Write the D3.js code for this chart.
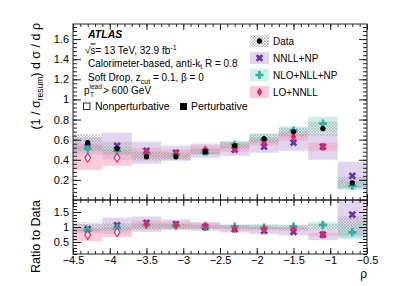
<!DOCTYPE html>
<html>
<head>
<meta charset="utf-8">
<script src="https://cdn.jsdelivr.net/npm/d3@7"></script>
<style>
  body { margin: 0; background: #fff; }
  text { font-family: "Liberation Sans", Arial, sans-serif; }
</style>
</head>
<body>
<script>
// bin centres in rho, each bin is 0.4 wide
const rho = [-4.3, -3.9, -3.5, -3.1, -2.7, -2.3, -1.9, -1.5, -1.1, -0.7];
const binWidth = 0.4;

// measured data + uncertainty band
const dataVal = [0.57, 0.51, 0.43, 0.43, 0.48, 0.54, 0.61, 0.68, 0.71, 0.17];
const dataLo  = [0.49, 0.45, 0.39, 0.40, 0.45, 0.51, 0.57, 0.63, 0.64, 0.12];
const dataHi  = [0.66, 0.58, 0.48, 0.47, 0.51, 0.58, 0.66, 0.72, 0.78, 0.23];

// NNLL+NP
const nnllVal = [0.53, 0.54, 0.49, 0.47, 0.48, 0.50, 0.53, 0.57, 0.53, 0.24];
const nnllLo  = [0.45, 0.40, 0.36, 0.39, 0.42, 0.44, 0.47, 0.49, 0.40, 0.11];
const nnllHi  = [0.62, 0.67, 0.58, 0.54, 0.56, 0.58, 0.62, 0.68, 0.66, 0.38];

// NLO+NLL+NP
const nloVal = [0.51, 0.49, 0.46, 0.45, 0.48, 0.55, 0.60, 0.69, 0.76, 0.14];
const nloLo  = [0.47, 0.46, 0.43, 0.42, 0.45, 0.52, 0.56, 0.64, 0.67, 0.10];
const nloHi  = [0.55, 0.53, 0.49, 0.48, 0.51, 0.58, 0.66, 0.73, 0.83, 0.19];

// LO+NNLL (no prediction in the last bin, first two bins nonperturbative)
const loVal = [0.42, 0.42, 0.47, 0.46, 0.50, 0.51, 0.57, 0.63, 0.53, null];
const loLo  = [0.30, 0.34, 0.41, 0.41, 0.46, 0.48, 0.54, 0.59, 0.49, null];
const loHi  = [0.55, 0.50, 0.52, 0.50, 0.54, 0.55, 0.61, 0.66, 0.57, null];
const loOpen = [true, true, false, false, false, false, false, false, false, false];

// axis ticks
const xMajor = [-4.5, -4, -3.5, -3, -2.5, -2, -1.5, -1, -0.5];
const yMainMajor = [0.2, 0.4, 0.6, 0.8, 1, 1.2, 1.4, 1.6];
const yRatioMajor = [0.5, 1, 1.5];

const W = 399, H = 286;
const left = 73, right = 367, mainTop = 24, mainBot = 200, ratTop = 200, ratBot = 254;

const x = d3.scaleLinear().domain([-4.5, -0.5]).range([left, right]);
const y = d3.scaleLinear().domain([0, 1.75]).range([mainBot, mainTop]);
const yr = d3.scaleLinear().domain([0.1, 1.9]).range([ratBot, ratTop]);

const svg = d3.select("body").append("svg").attr("width", W).attr("height", H);
const defs = svg.append("defs");

// crosshatch for data band
const pat = defs.append("pattern").attr("id", "hatch").attr("patternUnits", "userSpaceOnUse")
  .attr("width", 3).attr("height", 3);
pat.append("path").attr("d", "M0,3L3,0M-1,1L1,-1M2,4L4,2").attr("stroke", "#8c8c8c").attr("stroke-width", 0.6);
pat.append("path").attr("d", "M0,0L3,3M-1,2L1,4M2,-1L4,1").attr("stroke", "#8c8c8c").attr("stroke-width", 0.6);

defs.append("clipPath").attr("id", "clipMain").append("rect")
  .attr("x", left).attr("y", mainTop).attr("width", right - left).attr("height", mainBot - mainTop);
defs.append("clipPath").attr("id", "clipRatio").append("rect")
  .attr("x", left).attr("y", ratTop).attr("width", right - left).attr("height", ratBot - ratTop);

const series = [
  { name: "NNLL+NP", val: nnllVal, lo: nnllLo, hi: nnllHi, color: "#6b35a3", band: "#c9b3e0", shape: "x" },
  { name: "NLO+NLL+NP", val: nloVal, lo: nloLo, hi: nloHi, color: "#2fb0a0", band: "#a9e0d8", shape: "plus" },
  { name: "LO+NNLL", val: loVal, lo: loLo, hi: loHi, color: "#e8215f", band: "#f4a3bd", shape: "diamond", open: loOpen }
];

function markerPath(shape) {
  if (shape === "x" || shape === "plus") return d3.symbol(d3.symbolCross, 36)();
  if (shape === "diamond") return d3.symbol(d3.symbolDiamond, 23)();
  return d3.symbol(d3.symbolCircle, 22)();
}

function drawPanel(yScale, clipId, ratio) {
  const g = svg.append("g").attr("clip-path", `url(#${clipId})`);
  const norm = i => ratio ? dataVal[i] : 1;

  // model bands
  series.forEach(s => {
    g.append("g").selectAll("rect").data(rho.map((r, i) => i).filter(i => s.val[i] != null)).enter()
      .append("rect")
      .attr("x", i => x(rho[i] - binWidth / 2))
      .attr("width", i => x(rho[i] + binWidth / 2) - x(rho[i] - binWidth / 2))
      .attr("y", i => yScale(s.hi[i] / norm(i)))
      .attr("height", i => yScale(s.lo[i] / norm(i)) - yScale(s.hi[i] / norm(i)))
      .attr("fill", s.band).attr("fill-opacity", 0.55);
  });
  // data band
  g.append("g").selectAll("rect").data(rho.map((r, i) => i)).enter().append("rect")
    .attr("x", i => x(rho[i] - binWidth / 2))
    .attr("width", i => x(rho[i] + binWidth / 2) - x(rho[i] - binWidth / 2))
    .attr("y", i => yScale(dataHi[i] / norm(i)))
    .attr("height", i => yScale(dataLo[i] / norm(i)) - yScale(dataHi[i] / norm(i)))
    .attr("fill", "url(#hatch)").attr("opacity", 0.65);

  // markers
  series.forEach(s => {
    g.append("g").selectAll("path").data(rho.map((r, i) => i).filter(i => s.val[i] != null)).enter()
      .append("path")
      .attr("d", markerPath(s.shape))
      .attr("transform", i => `translate(${x(rho[i])},${yScale(s.val[i] / norm(i))})` +
        (s.shape === "x" ? " rotate(45)" : s.shape === "diamond" ? " scale(1.1,1)" : ""))
      .attr("fill", i => (s.open && s.open[i]) ? "#fff" : s.color)
      .attr("stroke", i => (s.open && s.open[i]) ? s.color : "none")
      .attr("stroke-width", 1.1);
  });
  if (!ratio) {
    g.append("g").selectAll("path").data(rho.map((r, i) => i)).enter().append("path")
      .attr("d", markerPath("dot"))
      .attr("transform", i => `translate(${x(rho[i])},${yScale(dataVal[i])})`)
      .attr("fill", "#000");
  }
}

drawPanel(y, "clipMain", false);
drawPanel(yr, "clipRatio", true);

// axes, ROOT style: ticks point inward on all four sides
function minorVals(a, b, step) {
  const v = [];
  for (let k = Math.round(a / step); k * step <= b + 1e-9; k++) v.push(+(k * step).toFixed(4));
  return v;
}
function tickAxis(axisFn, scale, values, size, fmt, tx, ty) {
  const a = axisFn(scale).tickValues(values).tickSizeInner(size).tickSizeOuter(0)
    .tickPadding(axisFn === d3.axisBottom ? 2 : 4).tickFormat(fmt || (() => ""));
  const g = svg.append("g").attr("transform", `translate(${tx},${ty})`).call(a);
  g.select(".domain").remove();
  g.attr("font-size", 11).attr("font-family", '"Liberation Sans", Arial, sans-serif');
  g.selectAll("line").attr("stroke", "#222");
  g.selectAll("text").attr("fill", "#000");
  return g;
}
const fmt = d3.format("~g");
const xMinor = minorVals(-4.5, -0.5, 0.1);

// main panel
tickAxis(d3.axisLeft, y, yMainMajor, -8, fmt, left, 0);
tickAxis(d3.axisLeft, y, minorVals(0, 1.75, 0.04), -4, null, left, 0);
tickAxis(d3.axisRight, y, yMainMajor.concat([0]), -8, null, right, 0);
tickAxis(d3.axisRight, y, minorVals(0, 1.75, 0.04), -4, null, right, 0);
tickAxis(d3.axisBottom, x, xMajor, -6, null, 0, mainBot);
tickAxis(d3.axisBottom, x, xMinor, -3, null, 0, mainBot);
tickAxis(d3.axisTop, x, xMajor, -6, null, 0, mainTop);
tickAxis(d3.axisTop, x, xMinor, -3, null, 0, mainTop);

// ratio panel
tickAxis(d3.axisLeft, yr, yRatioMajor, -8, fmt, left, 0);
tickAxis(d3.axisLeft, yr, minorVals(0.1, 1.9, 0.1), -4, null, left, 0);
tickAxis(d3.axisRight, yr, yRatioMajor, -8, null, right, 0);
tickAxis(d3.axisRight, yr, minorVals(0.1, 1.9, 0.1), -4, null, right, 0);
tickAxis(d3.axisBottom, x, xMajor, -6, fmt, 0, ratBot);
tickAxis(d3.axisBottom, x, xMinor, -3, null, 0, ratBot);
tickAxis(d3.axisTop, x, xMajor, -6, null, 0, ratTop);
tickAxis(d3.axisTop, x, xMinor, -3, null, 0, ratTop);

// frames
svg.append("rect").attr("x", left).attr("y", mainTop).attr("width", right - left).attr("height", mainBot - mainTop)
  .attr("fill", "none").attr("stroke", "#222").attr("stroke-width", 1);
svg.append("rect").attr("x", left).attr("y", ratTop).attr("width", right - left).attr("height", ratBot - ratTop)
  .attr("fill", "none").attr("stroke", "#222").attr("stroke-width", 1);

// axis titles
const yt = svg.append("text").attr("transform", "translate(40,23) rotate(-90)")
  .attr("text-anchor", "end").attr("font-size", 12.5);
yt.append("tspan").text("(1 / σ");
yt.append("tspan").attr("font-size", 8.5).attr("dy", 3).text("resum");
yt.append("tspan").attr("dy", -3).text(") d σ / d ρ");

svg.append("text").attr("transform", "translate(40,200) rotate(-90)")
  .attr("text-anchor", "end").attr("font-size", 12.5).text("Ratio to Data");

svg.append("text").attr("x", right).attr("y", 278).attr("text-anchor", "end")
  .attr("font-size", 12).text("ρ");

// labels
svg.append("text").attr("x", 88).attr("y", 37.5).attr("font-size", 10.5)
  .attr("font-weight", "bold").attr("font-style", "italic").text("ATLAS");

const l1 = svg.append("text").attr("x", 85).attr("y", 53.5).attr("font-size", 10);
l1.append("tspan").text("√");
l1.append("tspan").attr("text-decoration", "overline").text("s");
l1.append("tspan").text("= 13 TeV, 32.9 fb");
l1.append("tspan").attr("font-size", 7).attr("dy", -4).text("-1");

const l2 = svg.append("text").attr("x", 88).attr("y", 66.5).attr("font-size", 10);
l2.append("tspan").text("Calorimeter-based, anti-k");
l2.append("tspan").attr("font-size", 7).attr("dy", 2.5).text("t");
l2.append("tspan").attr("dy", -2.5).text(" R = 0.8");

const l3 = svg.append("text").attr("x", 88).attr("y", 81).attr("font-size", 10);
l3.append("tspan").text("Soft Drop, z");
l3.append("tspan").attr("font-size", 7).attr("dy", 3).text("cut");
l3.append("tspan").attr("dy", -3).text(" = 0.1, β = 0");

svg.append("text").attr("x", 84).attr("y", 94).attr("font-size", 10).text("p");
svg.append("text").attr("x", 90).attr("y", 97).attr("font-size", 6.5).text("T");
svg.append("text").attr("x", 89.5).attr("y", 88.5).attr("font-size", 6.5).text("lead");
svg.append("text").attr("x", 103).attr("y", 94).attr("font-size", 10).text("> 600 GeV");

svg.append("rect").attr("x", 83.5).attr("y", 103).attr("width", 6.5).attr("height", 6.5)
  .attr("fill", "none").attr("stroke", "#000").attr("stroke-width", 0.8);
svg.append("text").attr("x", 95).attr("y", 110).attr("font-size", 10.5).text("Nonperturbative");
svg.append("rect").attr("x", 180).attr("y", 103).attr("width", 7).attr("height", 7).attr("fill", "#000");
svg.append("text").attr("x", 191).attr("y", 110).attr("font-size", 10.5).text("Perturbative");

// legend
const legendItems = [
  { name: "Data", band: "url(#hatch)", color: "#000", shape: "dot" }
].concat(series);
const leg = svg.append("g").selectAll("g").data(legendItems).enter().append("g")
  .attr("transform", (d, i) => `translate(250,${41 + i * 17})`);
leg.append("rect").attr("x", 0).attr("y", -6).attr("width", 19).attr("height", 12)
  .attr("fill", d => d.band).attr("fill-opacity", d => d.name === "Data" ? 0.8 : 0.55);
leg.append("path").attr("d", d => markerPath(d.shape))
  .attr("transform", d => "translate(9.5,0)" + (d.shape === "x" ? " rotate(45)" : ""))
  .attr("fill", d => d.color);
leg.append("text").attr("x", 23).attr("y", 4).attr("font-size", 10).text(d => d.name);
</script>
</body>
</html>
